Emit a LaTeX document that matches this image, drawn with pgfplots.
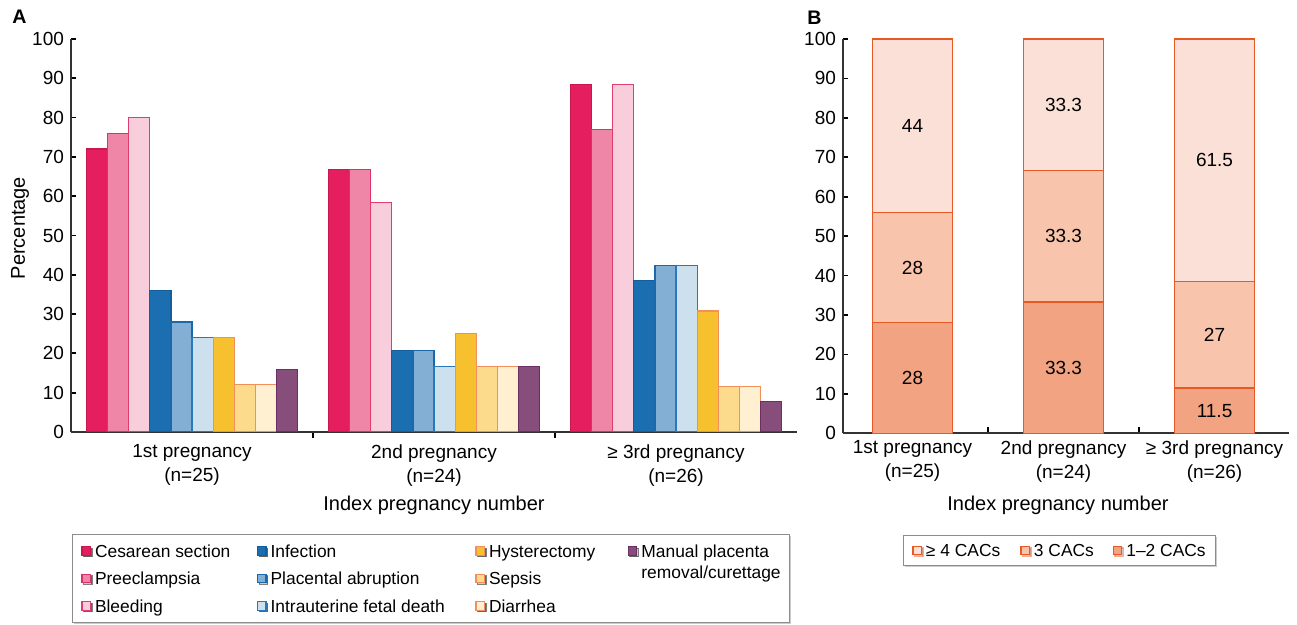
\documentclass[border=0pt]{standalone}
\usepackage{fontspec}
\setmainfont{Liberation Sans}
\usepackage{pgfplots}
\pgfplotsset{compat=1.18}
\usepackage{pgfplotstable}
\usetikzlibrary{shadows}

\definecolor{cesF}{HTML}{E41E5F}\definecolor{cesD}{HTML}{C9184F}
\definecolor{preF}{HTML}{F086A7}\definecolor{preD}{HTML}{D8336A}
\definecolor{bleF}{HTML}{F8CDDC}\definecolor{bleD}{HTML}{DF3D6E}
\definecolor{infF}{HTML}{1B6EAF}\definecolor{infD}{HTML}{155E9E}
\definecolor{abrF}{HTML}{83AFD4}\definecolor{abrD}{HTML}{1B68AA}
\definecolor{ifdF}{HTML}{CCE0EE}\definecolor{ifdD}{HTML}{2A78BA}
\definecolor{hysF}{HTML}{F6C02E}\definecolor{hysD}{HTML}{F2905A}
\definecolor{sepF}{HTML}{FCDC8C}\definecolor{sepD}{HTML}{F2905A}
\definecolor{diaF}{HTML}{FFF0D1}\definecolor{diaD}{HTML}{F2905A}
\definecolor{manF}{HTML}{874E7C}\definecolor{manD}{HTML}{6B2F63}
\definecolor{c4F}{HTML}{FAE0D6}
\definecolor{c3F}{HTML}{F8C4AC}
\definecolor{c12F}{HTML}{F2A382}
\definecolor{cD}{HTML}{E85A25}
\definecolor{axisc}{HTML}{333333}

% Panel B: stacked percentages (bottom to top)
\pgfplotstableread{
x y lab
0 28 28
1 33.3 33.3
2 11.5 11.5
}\cacOneTwo
\pgfplotstableread{
x y lab
0 28 28
1 33.3 33.3
2 27 27
}\cacThree
\pgfplotstableread{
x y lab
0 44 44
1 33.4 33.3
2 61.5 61.5
}\cacFour

\pgfplotsset{
  panel/.style={
    scale only axis, anchor=south west,
    axis lines=left, axis line style={-, line width=0.9pt, axisc},
    tick align=inside, ymin=0, ymax=100, ytick={0,10,...,100},
    major tick length=2.6pt, minor tick length=3pt,
    tick style={line width=0.9pt, black},
    xtick={0,1,2}, minor x tick num=1,
    major x tick style={draw=none},
    xticklabels={{1st pregnancy\\(n=25)},{2nd pregnancy\\(n=24)},{≥ 3rd pregnancy\\(n=26)}},
    /pgf/number format/assume math mode=true,
    tick label style={font=\fontsize{9.5}{12}\selectfont, text=black},
    xticklabel style={align=center},
    label style={font=\fontsize{10}{12}\selectfont},
    legend cell align=left,
  },
  sq/.style 2 args={legend image code/.code={\draw[fill=#1, draw=#2, line width=0.6pt] (0pt,-2.1pt) rectangle (4.2pt,2.1pt);}},
  lgstyle/.style={draw=black!45, line width=0.6pt, fill=white,
    font=\fontsize{8.7}{10.5}\selectfont, inner xsep=4.4pt,
    column sep=2pt, row sep=5.55pt,
    nodes={inner sep=0pt, text height=7.23pt, text depth=0.97pt},
    drop shadow={shadow xshift=0.8pt, shadow yshift=-0.8pt, fill=black!40}},
}

\begin{document}
\begin{tikzpicture}
\useasboundingbox (0,0) rectangle (648.5pt,312.5pt);

% ---------------- Panel A ----------------
\begin{axis}[panel, at={(35.5pt,96.5pt)}, width=363pt, height=196.5pt,
  xmin=-0.5, xmax=2.5, ybar=0pt, bar width=10.55pt,
  ylabel={Percentage}, ylabel style={at={(axis description cs:-0.0702,0.519)}, anchor=center},
  xlabel={Index pregnancy number}, xlabel style={at={(axis description cs:0.5,-0.1858)}, anchor=center},
  legend columns=4,
  legend style={lgstyle, at={(axis description cs:0.0014,-0.2595)}, anchor=north west, inner ysep=4.15pt},
]
\addplot[forget plot, fill=cesF, draw=cesD, line width=0.6pt, bar shift=-47.475pt] coordinates {(0,72) (1,66.7) (2,88.5)};
\addplot[forget plot, fill=preF, draw=preD, line width=0.6pt, bar shift=-36.925pt] coordinates {(0,76) (1,66.7) (2,76.9)};
\addplot[forget plot, fill=bleF, draw=bleD, line width=0.6pt, bar shift=-26.375pt] coordinates {(0,80) (1,58.3) (2,88.5)};
\addplot[forget plot, fill=infF, draw=infD, line width=0.6pt, bar shift=-15.825pt] coordinates {(0,36) (1,20.8) (2,38.5)};
\addplot[forget plot, fill=abrF, draw=abrD, line width=0.6pt, bar shift=-5.275pt] coordinates {(0,28) (1,20.8) (2,42.3)};
\addplot[forget plot, fill=ifdF, draw=ifdD, line width=0.6pt, bar shift=5.275pt] coordinates {(0,24) (1,16.7) (2,42.3)};
\addplot[forget plot, fill=hysF, draw=hysD, line width=0.6pt, bar shift=15.825pt] coordinates {(0,24) (1,25) (2,30.8)};
\addplot[forget plot, fill=sepF, draw=sepD, line width=0.6pt, bar shift=26.375pt] coordinates {(0,12) (1,16.7) (2,11.5)};
\addplot[forget plot, fill=diaF, draw=diaD, line width=0.6pt, bar shift=36.925pt] coordinates {(0,12) (1,16.7) (2,11.5)};
\addplot[forget plot, fill=manF, draw=manD, line width=0.6pt, bar shift=47.475pt] coordinates {(0,16) (1,16.7) (2,7.7)};

\addlegendimage{sq={cesF}{cesD}}\addlegendentry{\makebox[79pt][l]{Cesarean section}}
\addlegendimage{sq={infF}{infD}}\addlegendentry{\makebox[100.4pt][l]{Infection}}
\addlegendimage{sq={hysF}{hysD}}\addlegendentry{\makebox[67.4pt][l]{Hysterectomy}}
\addlegendimage{sq={manF}{manD}}\addlegendentry{{\smash{\begin{tabular}[t]{@{}l@{}}Manual placenta\\removal/curettage\end{tabular}}}}
\addlegendimage{sq={preF}{preD}}\addlegendentry{Preeclampsia}
\addlegendimage{sq={abrF}{abrD}}\addlegendentry{Placental abruption}
\addlegendimage{sq={sepF}{sepD}}\addlegendentry{Sepsis}
\addlegendimage{empty legend}\addlegendentry{}
\addlegendimage{sq={bleF}{bleD}}\addlegendentry{Bleeding}
\addlegendimage{sq={ifdF}{ifdD}}\addlegendentry{Intrauterine fetal death}
\addlegendimage{sq={diaF}{diaD}}\addlegendentry{Diarrhea}
\end{axis}

% ---------------- Panel B ----------------
\begin{axis}[panel, at={(421.5pt,95.85pt)}, width=223pt, height=197.15pt,
  xmin=-0.4603, xmax=2.493, ybar stacked, bar width=40pt,
  xlabel={Index pregnancy number}, xlabel style={at={(axis description cs:0.482,-0.1818)}, anchor=center},
  reverse legend, legend columns=3,
  legend style={lgstyle, at={(axis description cs:0.1345,-0.2579)}, anchor=north west, inner ysep=3.4pt},
  nodes near coords, point meta=explicit symbolic,
  every node near coord/.append style={font=\fontsize{9.5}{12}\selectfont, text=black, anchor=center},
]
\addplot[fill=c12F, draw=cD, line width=0.6pt, sq={c12F}{cD}] table[x=x, y=y, meta=lab] {\cacOneTwo};
\addlegendentry{\makebox[40pt][l]{1–2 CACs}}
\addplot[fill=c3F, draw=cD, line width=0.6pt, sq={c3F}{cD}] table[x=x, y=y, meta=lab] {\cacThree};
\addlegendentry{\makebox[37.4pt][l]{3 CACs}}
\addplot[fill=c4F, draw=cD, line width=0.6pt, sq={c4F}{cD}] table[x=x, y=y, meta=lab] {\cacFour};
\addlegendentry{\makebox[45.2pt][l]{≥ 4 CACs}}
\end{axis}

\node[font=\fontsize{9.8}{11}\selectfont\bfseries] at (9.75pt,304.25pt) {A};
\node[font=\fontsize{9.8}{11}\selectfont\bfseries] at (407.25pt,303.5pt) {B};
\end{tikzpicture}
\end{document}
